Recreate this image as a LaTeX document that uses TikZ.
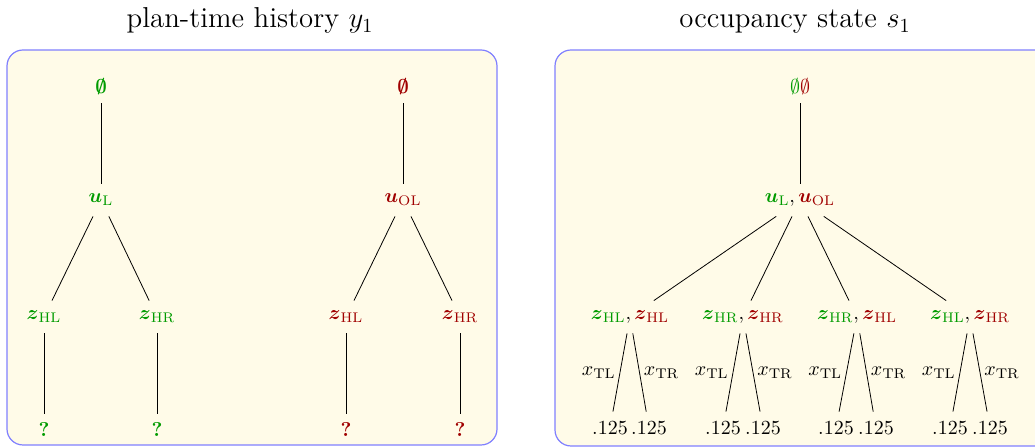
\documentclass[tikz,border=0pt]{standalone}
\usepackage{amsmath, amssymb}
\usepackage{tikz}
\usetikzlibrary{positioning}
\definecolor{histgreen}{RGB}{0, 155, 0}
\definecolor{histred}{RGB}{160, 0, 0}
\definecolor{panelfill}{RGB}{255, 251, 232}
\definecolor{panelline}{RGB}{128, 128, 255}
\newcommand{\grn}[1]{{\color{histgreen}#1}}
\newcommand{\rd}[1]{{\color{histred}#1}}

\begin{document}
\begin{tikzpicture}[
    x=0.5pt, y=-0.5pt,
    tnode/.style={minimum height=16pt, inner sep=1pt},
    gnode/.style={tnode, text=histgreen},
    rnode/.style={tnode, text=histred},
    leafnode/.style={tnode, inner sep=0.5pt},
    edge/.style={line width=0.4pt},
    elbl/.style={inner sep=2pt},
    panel/.style={draw=panelline, fill=panelfill, rounded corners=8pt, line width=0.6pt},
    title/.style={font=\Large, anchor=base}
]
    \useasboundingbox (0,0) rectangle (1035,448);
    \clip (0,0) rectangle (1035,448);

    % panels
    \draw[panel] (7,50) rectangle (497,445);
    \draw[panel] (555,50) rectangle (1050,446);
    \node[title] (histtitle) at (250,28) {plan-time history $y_1$};
    \node[title] (occtitle) at (795,28) {occupancy state $s_1$};

    % plan-time history, green agent
    \node[gnode] (lroot) at (101,87) {$\boldsymbol{\emptyset}$};
    \node[gnode] (lu) at (101,200) {$\boldsymbol{u}_{\mathrm{L}}$};
    \node[gnode] (lzl) at (44,317) {$\boldsymbol{z}_{\mathrm{HL}}$};
    \node[gnode] (lzr) at (157,317) {$\boldsymbol{z}_{\mathrm{HR}}$};
    \node[gnode] (lql) at (44,430) {\textbf{?}};
    \node[gnode] (lqr) at (157,430) {\textbf{?}};
    \draw[edge] (lroot) -- (lu);
    \draw[edge] (lu) -- (lzl);
    \draw[edge] (lu) -- (lzr);
    \draw[edge] (lzl) -- (lql);
    \draw[edge] (lzr) -- (lqr);

    % plan-time history, red agent
    \node[rnode] (rroot) at (403,87) {$\boldsymbol{\emptyset}$};
    \node[rnode] (ru) at (403,200) {$\boldsymbol{u}_{\mathrm{OL}}$};
    \node[rnode] (rzl) at (346,317) {$\boldsymbol{z}_{\mathrm{HL}}$};
    \node[rnode] (rzr) at (460,317) {$\boldsymbol{z}_{\mathrm{HR}}$};
    \node[rnode] (rql) at (346,430) {\textbf{?}};
    \node[rnode] (rqr) at (460,430) {\textbf{?}};
    \draw[edge] (rroot) -- (ru);
    \draw[edge] (ru) -- (rzl);
    \draw[edge] (ru) -- (rzr);
    \draw[edge] (rzl) -- (rql);
    \draw[edge] (rzr) -- (rqr);

    % occupancy state
    \node[tnode] (oroot) at (800,87) {$\grn{\emptyset}\rd{\emptyset}$};
    \node[tnode] (ou) at (800,200) {$\grn{\boldsymbol{u}_{\mathrm{L}}}, \rd{\boldsymbol{u}_{\mathrm{OL}}}$};
    \node[tnode] (oa) at (630,317) {$\grn{\boldsymbol{z}_{\mathrm{HL}}}, \rd{\boldsymbol{z}_{\mathrm{HL}}}$};
    \node[tnode] (ob) at (743,317) {$\grn{\boldsymbol{z}_{\mathrm{HR}}}, \rd{\boldsymbol{z}_{\mathrm{HR}}}$};
    \node[tnode] (oc) at (857,317) {$\grn{\boldsymbol{z}_{\mathrm{HR}}}, \rd{\boldsymbol{z}_{\mathrm{HL}}}$};
    \node[tnode] (od) at (970,317) {$\grn{\boldsymbol{z}_{\mathrm{HL}}}, \rd{\boldsymbol{z}_{\mathrm{HR}}}$};
    \draw[edge] (oroot) -- (ou);
    \draw[edge] (ou) -- (oa);
    \draw[edge] (ou) -- (ob);
    \draw[edge] (ou) -- (oc);
    \draw[edge] (ou) -- (od);

    \node[leafnode] (oal) at (610,428) {$.125$};
    \node[leafnode] (oar) at (649,428) {$.125$};
    \node[leafnode] (obl) at (723,428) {$.125$};
    \node[leafnode] (obr) at (763,428) {$.125$};
    \node[leafnode] (ocl) at (836,428) {$.125$};
    \node[leafnode] (ocr) at (876,428) {$.125$};
    \node[leafnode] (odl) at (950,428) {$.125$};
    \node[leafnode] (odr) at (990,428) {$.125$};
    \draw[edge] (oa) -- node[elbl, left] {$x_{\mathrm{TL}}$} (oal);
    \draw[edge] (oa) -- node[elbl, right] {$x_{\mathrm{TR}}$} (oar);
    \draw[edge] (ob) -- node[elbl, left] {$x_{\mathrm{TL}}$} (obl);
    \draw[edge] (ob) -- node[elbl, right] {$x_{\mathrm{TR}}$} (obr);
    \draw[edge] (oc) -- node[elbl, left] {$x_{\mathrm{TL}}$} (ocl);
    \draw[edge] (oc) -- node[elbl, right] {$x_{\mathrm{TR}}$} (ocr);
    \draw[edge] (od) -- node[elbl, left] {$x_{\mathrm{TL}}$} (odl);
    \draw[edge] (od) -- node[elbl, right] {$x_{\mathrm{TR}}$} (odr);
\end{tikzpicture}
\end{document}
